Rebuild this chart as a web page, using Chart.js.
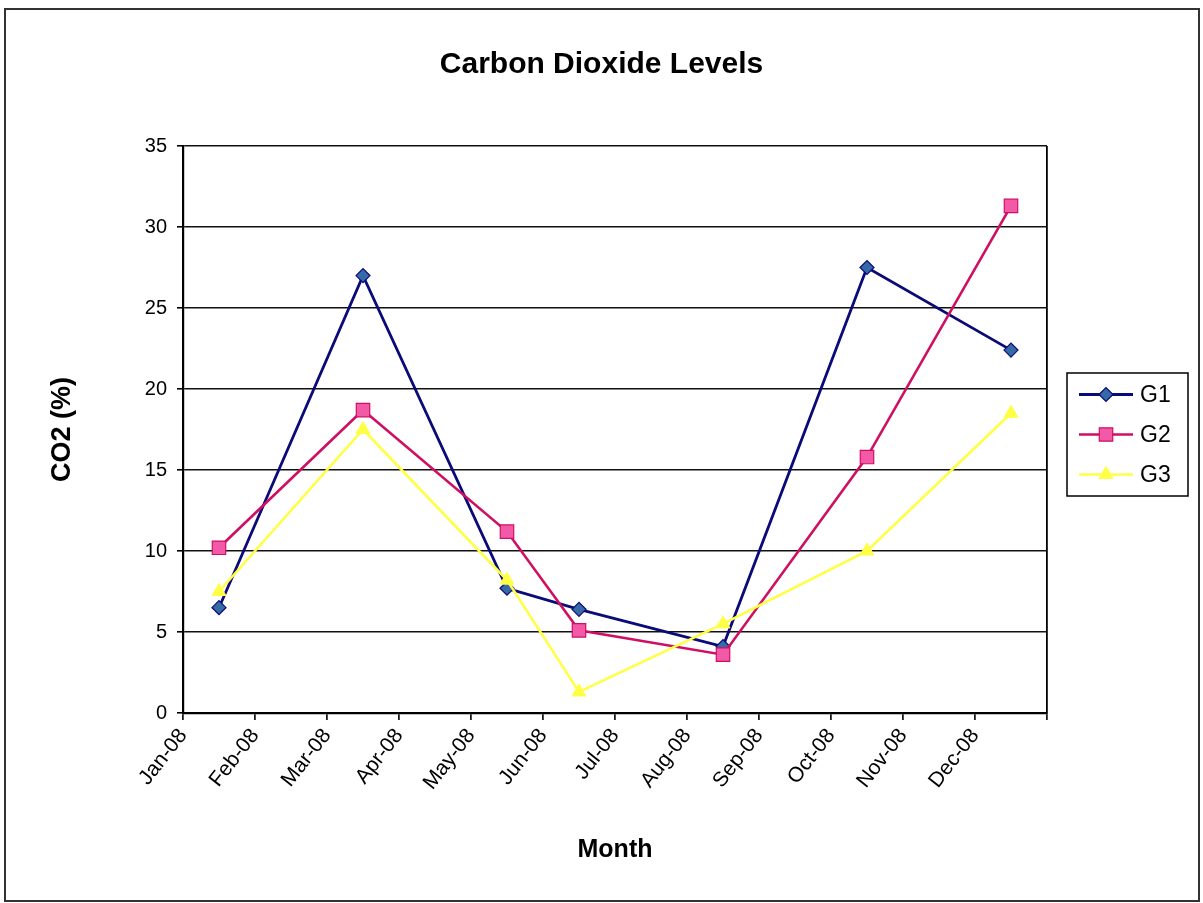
<!DOCTYPE html>
<html>
<head>
<meta charset="utf-8">
<title>Carbon Dioxide Levels</title>
<script src="https://cdn.jsdelivr.net/npm/chart.js@4/dist/chart.umd.min.js"></script>
<style>
  html, body { margin: 0; padding: 0; background: #fff; }
  canvas { display: block; }
</style>
</head>
<body>
<canvas id="co2" width="1203" height="903"></canvas>
<script>
// Month tick labels along the date axis (month boundaries)
const monthLabels = ['Jan-08', 'Feb-08', 'Mar-08', 'Apr-08', 'May-08', 'Jun-08',
                     'Jul-08', 'Aug-08', 'Sep-08', 'Oct-08', 'Nov-08', 'Dec-08'];
// Months in which samples were taken (plotted mid-month)
const sampleMonths = ['Jan-08', 'Mar-08', 'May-08', 'Jun-08', 'Aug-08', 'Oct-08', 'Dec-08'];
// CO2 readings (%) per greenhouse
const g1 = [6.5, 27.0, 7.7, 6.4, 4.1, 27.5, 22.4];
const g2 = [10.2, 18.7, 11.2, 5.1, 3.6, 15.8, 31.3];
const g3 = [7.5, 17.5, 8.2, 1.3, 5.5, 10.0, 18.5];
const seriesNames = ['G1', 'G2', 'G3'];
// Value axis range
const yMin = 0, yMax = 35, yStep = 5;

const FONT = 'Arial, "Liberation Sans", sans-serif';

function toPoints(values) {
  return values.map((v, i) => ({ x: monthLabels.indexOf(sampleMonths[i]) + 0.5, y: v }));
}

// Side legend: a layout box on the right that reserves room and draws a framed key
const sideLegend = {
  id: 'sideLegend',
  beforeInit(chart) {
    const box = {
      position: 'right', weight: 10, fullSize: false, options: {},
      left: 0, top: 0, right: 0, bottom: 0, width: 0, height: 0,
      isHorizontal() { return false; },
      update(maxW, maxH) { this.width = 156; this.height = maxH; },
      draw() {
        const ctx = chart.ctx, area = chart.chartArea;
        const sets = chart.data.datasets;
        const w = 121, h = 123, gap = 40;
        const x0 = this.left + 20;
        const cy = (area.top + area.bottom) / 2 + 5;
        const y0 = cy - h / 2;
        ctx.save();
        ctx.fillStyle = '#fff';
        ctx.fillRect(x0, y0, w, h);
        ctx.strokeStyle = '#000';
        ctx.lineWidth = 1.5;
        ctx.strokeRect(x0, y0, w, h);
        sets.forEach((ds, i) => {
          const y = cy + (i - (sets.length - 1) / 2) * gap;
          ctx.strokeStyle = ds.borderColor;
          ctx.lineWidth = ds.borderWidth;
          ctx.beginPath();
          ctx.moveTo(x0 + 12, y);
          ctx.lineTo(x0 + 66, y);
          ctx.stroke();
          ctx.fillStyle = ds.pointBackgroundColor;
          ctx.strokeStyle = ds.pointBorderColor;
          ctx.lineWidth = ds.pointBorderWidth;
          Chart.helpers.drawPoint(ctx, {
            pointStyle: ds.pointStyle, rotation: 0,
            radius: ds.pointRadius, borderWidth: ds.pointBorderWidth
          }, x0 + 39, y);
          ctx.fillStyle = '#000';
          ctx.font = '23px ' + FONT;
          ctx.textAlign = 'left';
          ctx.textBaseline = 'middle';
          ctx.fillText(ds.label, x0 + 73, y + 1);
        });
        ctx.restore();
      }
    };
    Chart.layouts.addBox(chart, box);
  }
};

// White page with a thin frame round the whole chart
const frame = {
  id: 'frame',
  beforeDraw(chart) {
    const ctx = chart.ctx;
    ctx.save();
    ctx.fillStyle = '#fff';
    ctx.fillRect(0, 0, chart.width, chart.height);
    ctx.restore();
  },
  afterDraw(chart) {
    const ctx = chart.ctx;
    ctx.save();
    ctx.strokeStyle = '#333';
    ctx.lineWidth = 2;
    ctx.strokeRect(5, 9, 1194, 892);
    ctx.restore();
  }
};

new Chart(document.getElementById('co2'), {
  type: 'line',
  data: {
    datasets: [
      {
        label: seriesNames[0], data: toPoints(g1), order: 3,
        borderColor: '#0a0a78', borderWidth: 2.8,
        pointStyle: 'rectRot', pointRadius: 7,
        pointBackgroundColor: '#356aa6', pointBorderColor: '#0a0a78', pointBorderWidth: 1.2
      },
      {
        label: seriesNames[1], data: toPoints(g2), order: 2,
        borderColor: '#cf0f62', borderWidth: 2.6,
        pointStyle: 'rect', pointRadius: 9.5,
        pointBackgroundColor: '#f25aa8', pointBorderColor: '#cf0f62', pointBorderWidth: 1.2
      },
      {
        label: seriesNames[2], data: toPoints(g3), order: 1,
        borderColor: '#ffff45', borderWidth: 2.6,
        pointStyle: 'triangle', pointRadius: 8,
        pointBackgroundColor: '#ffff45', pointBorderColor: '#ffff45', pointBorderWidth: 1
      }
    ]
  },
  options: {
    responsive: false,
    animation: false,
    devicePixelRatio: 1,
    layout: { padding: 0 },
    elements: { line: { tension: 0 } },
    plugins: {
      legend: { display: false },
      tooltip: { enabled: false },
      title: {
        display: true,
        text: 'Carbon Dioxide Levels',
        color: '#000',
        font: { family: FONT, size: 30, weight: 'bold' },
        padding: { top: 47, bottom: 63 }
      }
    },
    scales: {
      x: {
        type: 'linear',
        min: 0, max: monthLabels.length,
        afterFit(scale) { scale.height = 190; },
        border: { display: true, color: '#000', width: 2.2 },
        grid: {
          drawOnChartArea: true,
          color: (c) => (c.tick && c.tick.value === monthLabels.length ? '#000' : 'rgba(0,0,0,0)'),
          lineWidth: 1.8,
          tickColor: '#000', tickLength: 7, tickWidth: 1.6
        },
        ticks: {
          stepSize: 1, autoSkip: false,
          minRotation: 52, maxRotation: 52,
          padding: 4,
          color: '#000',
          font: { family: FONT, size: 21 },
          callback: (v) => monthLabels[v] || ''
        },
        title: {
          display: true, text: 'Month', color: '#000',
          font: { family: FONT, size: 25, weight: 'bold' },
          padding: { bottom: 38 }
        }
      },
      y: {
        min: yMin, max: yMax,
        afterFit(scale) { scale.width = 183; },
        border: { display: true, color: '#000', width: 2.2 },
        grid: {
          color: '#111', lineWidth: 1.6,
          tickColor: '#000', tickLength: 6, tickWidth: 1.6
        },
        ticks: {
          stepSize: yStep, padding: 10, color: '#000',
          font: { family: FONT, size: 20 }
        },
        title: {
          display: true, text: 'CO2 (%)', color: '#000',
          font: { family: FONT, size: 27, weight: 'bold' },
          padding: { top: 46 }
        }
      }
    }
  },
  plugins: [sideLegend, frame]
});
</script>
</body>
</html>
